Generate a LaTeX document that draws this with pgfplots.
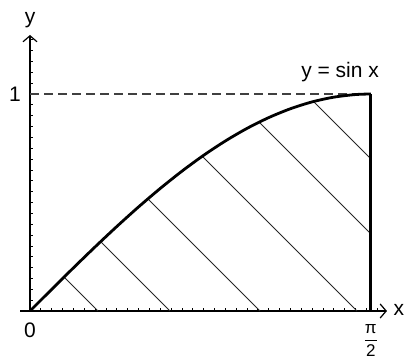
\documentclass[border=0pt]{standalone}
\usepackage{pgfplots}
\pgfplotsset{compat=1.18}
\usetikzlibrary{arrows.meta}
\usepackage{fontspec}
\setmainfont{Liberation Sans}
\begin{document}
\begin{tikzpicture}
	\begin{axis}[
		at={(30pt,49pt)}, anchor=origin,
		x=217pt, y=217pt,
		xmin=-0.046, xmax=1.645,
		ymin=0, ymax=1.272,
		axis lines=middle,
		axis line style={line width=1.4pt, -{Straight Barb[length=6pt,width=14pt,line width=1.2pt]}},
		xtick distance=0.05, ytick distance=0.05,
		xticklabels={}, yticklabels={},
		tick align=inside,
		major tick length=3pt,
		tick style={black, line width=0.8pt},
		clip=false,
		font=\fontsize{21}{25}\selectfont
		]
		
		% dashed level y = 1
		\addplot[black!75, line width=1.4pt, dash pattern=on 9pt off 5pt] coordinates {
			(0,1) (1.5708,1)
		};
		
		% hatch lines
		\addplot[black!85, line width=0.9pt] coordinates {(0.157,0.156) (0.313,0)};
		\addplot[black!85, line width=0.9pt] coordinates {(0.3255,0.320) (0.645,0)};
		\addplot[black!85, line width=0.9pt] coordinates {(0.543,0.517) (1.060,0)};
		\addplot[black!85, line width=0.9pt] coordinates {(0.794,0.713) (1.507,0)};
		\addplot[black!85, line width=0.9pt] coordinates {(1.056,0.870) (1.5708,0.355)};
		\addplot[black!85, line width=0.9pt] coordinates {(1.307,0.965) (1.5708,0.701)};
		
		% y = sin x
		\addplot[black, line width=2.8pt, smooth] coordinates {
			(0,0) (0.1,0.0998) (0.2,0.1987) (0.3,0.2955) (0.4,0.3894)
			(0.5,0.4794) (0.6,0.5646) (0.7,0.6442) (0.8,0.7174) (0.9,0.7833)
			(1.0,0.8415) (1.1,0.8912) (1.2,0.9320) (1.3,0.9636) (1.4,0.9854)
			(1.5,0.9975) (1.5708,1)
		};
		
		% right edge x = pi/2
		\addplot[black, line width=2.8pt] coordinates {(1.5708,0) (1.5708,1)};
		
		\node at (axis cs:1.429,1.101) {y = sin x};
		\node at (axis cs:0,1.341) {y};
		\node at (axis cs:1.70,0.005) {x};
		\node at (axis cs:0,-0.088) {0};
		\node at (axis cs:-0.069,1) {1};
		\node[inner sep=0pt, font=\fontsize{17}{19}\selectfont] at (axis cs:1.5708,-0.135) {$\displaystyle{\hbox{π}\over\hbox{2}}$};
	\end{axis}
	\pgfresetboundingbox
	\path (0,0) rectangle (408pt,360pt);
\end{tikzpicture}
\end{document}
